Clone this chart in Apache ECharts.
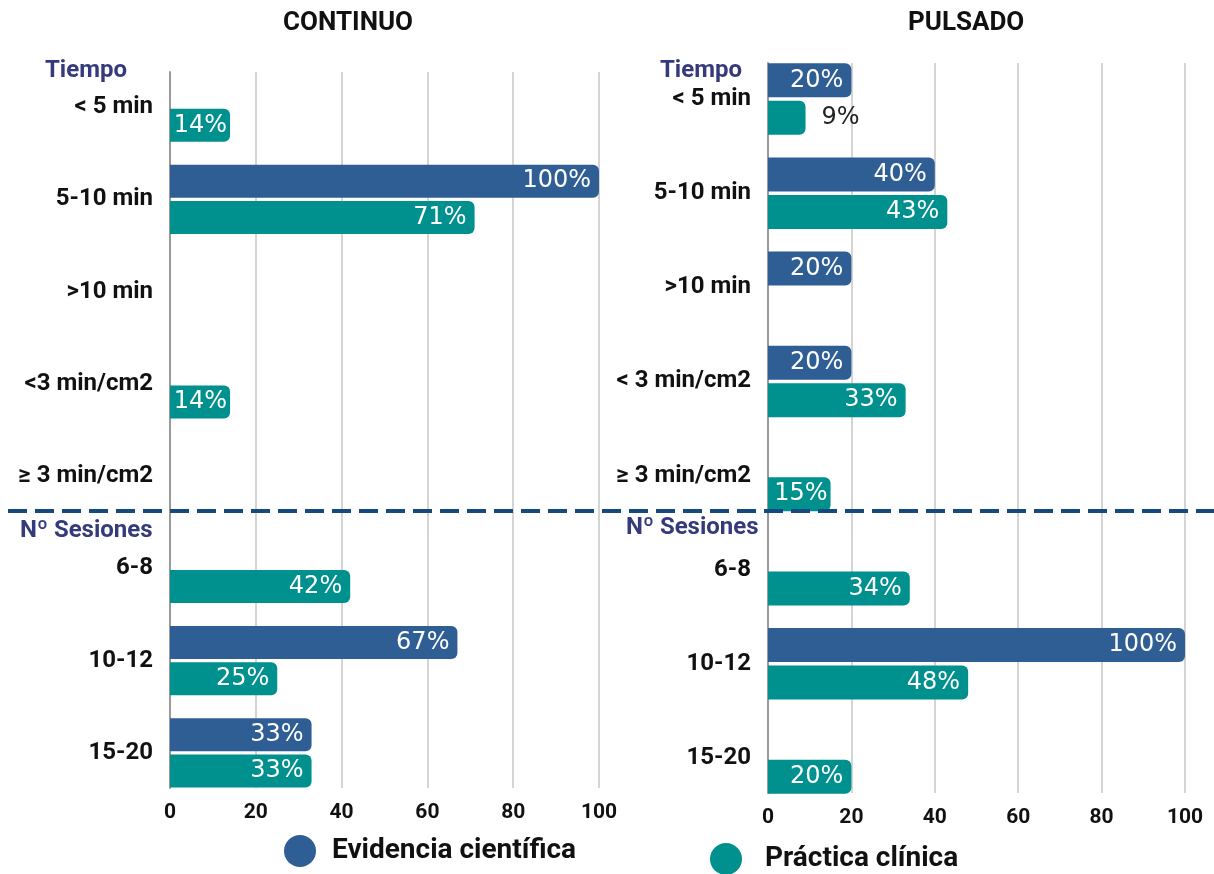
<!DOCTYPE html>
<html>
<head>
<meta charset="utf-8">
<script src="https://cdn.jsdelivr.net/npm/echarts@6/dist/echarts.min.js"></script>
<style>
  html, body { margin: 0; padding: 0; background: #ffffff; }
  #chart { width: 1214px; height: 874px; }
</style>
</head>
<body>
<div id="chart"></div>
<script>
// Categories for each panel (top to bottom)
const contCategories = ['< 5 min', '5-10 min', '>10 min', '<3 min/cm2', '≥ 3 min/cm2', '6-8', '10-12', '15-20'];
const pulsCategories = ['< 5 min', '5-10 min', '>10 min', '< 3 min/cm2', '≥ 3 min/cm2', '6-8', '10-12', '15-20'];

// Percentages per series (null = no bar)
const contEvidencia = [null, 100, null, null, null, null, 67, 33];
const contPractica  = [14, 71, null, 14, null, 42, 25, 33];
const pulsEvidencia = [20, 40, 20, 20, null, null, 100, null];
const pulsPractica  = [9, 43, null, 33, 15, 34, 48, 20];

const xTicks = [0, 20, 40, 60, 80, 100];
const seriesNames = ['Evidencia científica', 'Práctica clínica'];
const panelTitles = ['CONTINUO', 'PULSADO'];
const sectionTitles = ['Tiempo', 'Nº Sesiones'];

const BLUE = '#2f5e94';
const TEAL = '#00908e';
const NAVY = '#353a7c';
const LABEL_FONT = 'Roboto';
const VALUE_FONT = 'DejaVu Sans';

const chart = echarts.init(document.getElementById('chart'), null, { renderer: 'canvas' });

// bar grids carry the bars and category labels; line grids carry split lines and ticks
const barGrids = [
  { left: 170, width: 429, top: 61, height: 738 },
  { left: 768, width: 417, top: 52, height: 753 }
];
const lineGrids = [
  { left: 170, width: 429, top: 72, height: 716 },
  { left: 768, width: 417, top: 63, height: 730 }
];

function valueLabel(v) {
  if (v === null) return v;
  // values too short to hold their label get it outside in dark text
  if (v < 10) {
    return { value: v, label: { position: 'right', color: '#222', distance: 16 } };
  }
  // short bars keep the label tight against the bar end
  if (v < 18) {
    return { value: v, label: { distance: 3 } };
  }
  return v;
}

function barSeries(name, data, idx, color, width) {
  return {
    name: name,
    type: 'bar',
    xAxisIndex: idx,
    yAxisIndex: idx,
    data: data.map(valueLabel),
    barWidth: width,
    barGap: '10%',
    itemStyle: { color: color, borderRadius: [0, 6, 6, 0] },
    label: {
      show: true,
      position: 'insideRight',
      distance: 8,
      color: '#ffffff',
      fontFamily: VALUE_FONT,
      fontSize: 24,
      formatter: p => p.value + '%'
    },
    z: 3
  };
}

const xAxes = [];
const yAxes = [];
[0, 1].forEach(i => {
  xAxes.push({
    type: 'value', gridIndex: i, min: 0, max: 100, interval: 20,
    show: false
  });
  yAxes.push({
    type: 'category', gridIndex: i, inverse: true,
    data: i === 0 ? contCategories : pulsCategories,
    axisLine: { show: false }, axisTick: { show: false },
    axisLabel: {
      margin: 17, color: '#111', fontFamily: LABEL_FONT, fontWeight: 'bold', fontSize: 24
    }
  });
});
[0, 1].forEach(i => {
  xAxes.push({
    type: 'value', gridIndex: 2 + i, min: 0, max: 100, interval: 20,
    axisLine: { show: false }, axisTick: { show: false },
    splitLine: { show: true, lineStyle: { color: '#d4d4d4', width: 2 } },
    axisLabel: {
      margin: 14, color: '#111', fontFamily: LABEL_FONT, fontWeight: 'bold', fontSize: 21,
      formatter: v => (xTicks.indexOf(v) >= 0 ? String(v) : '')
    }
  });
  yAxes.push({
    type: 'value', gridIndex: 2 + i, min: 0, max: 1,
    axisLine: { show: true, lineStyle: { color: '#9a9a9a', width: 2 } },
    axisTick: { show: false }, axisLabel: { show: false }, splitLine: { show: false }
  });
});

const textStyleCommon = { fontFamily: LABEL_FONT, fontWeight: 'bold' };
function legendText(gap) {
  return Object.assign({ fontSize: 28, color: '#111', padding: [6, 0, 0, gap] }, textStyleCommon);
}

const option = {
  backgroundColor: '#ffffff',
  animation: false,
  grid: barGrids.concat(lineGrids),
  xAxis: xAxes,
  yAxis: yAxes,
  legend: [
    {
      data: [seriesNames[0]], left: 284, top: 835, icon: 'circle', padding: 0,
      itemWidth: 32, itemHeight: 32, selectedMode: false, textStyle: legendText(11)
    },
    {
      data: [seriesNames[1]], left: 710, top: 843, icon: 'circle', padding: 0,
      itemWidth: 32, itemHeight: 32, selectedMode: false, textStyle: legendText(18)
    }
  ],
  series: [
    barSeries(seriesNames[0], contEvidencia, 0, BLUE, 33),
    barSeries(seriesNames[1], contPractica, 0, TEAL, 33),
    barSeries(seriesNames[0], pulsEvidencia, 1, BLUE, 34),
    barSeries(seriesNames[1], pulsPractica, 1, TEAL, 34)
  ],
  graphic: [
    { type: 'text', left: 283, top: 10, style: Object.assign({ text: panelTitles[0], fontSize: 26, fill: '#111' }, textStyleCommon) },
    { type: 'text', left: 908, top: 10, style: Object.assign({ text: panelTitles[1], fontSize: 26, fill: '#111' }, textStyleCommon) },
    { type: 'text', left: 45, top: 59, style: Object.assign({ text: sectionTitles[0], fontSize: 24, fill: NAVY }, textStyleCommon) },
    { type: 'text', left: 20, top: 519, style: Object.assign({ text: sectionTitles[1], fontSize: 24, fill: NAVY }, textStyleCommon) },
    { type: 'text', left: 660, top: 59, style: Object.assign({ text: sectionTitles[0], fontSize: 24, fill: NAVY }, textStyleCommon) },
    { type: 'text', left: 626, top: 516, style: Object.assign({ text: sectionTitles[1], fontSize: 24, fill: NAVY }, textStyleCommon) },
    {
      type: 'line', z: 10,
      shape: { x1: 8, y1: 511, x2: 1214, y2: 511 },
      style: { stroke: '#174a7c', lineWidth: 4, lineDash: [19, 8] }
    }
  ]
};

chart.setOption(option);
</script>
</body>
</html>
